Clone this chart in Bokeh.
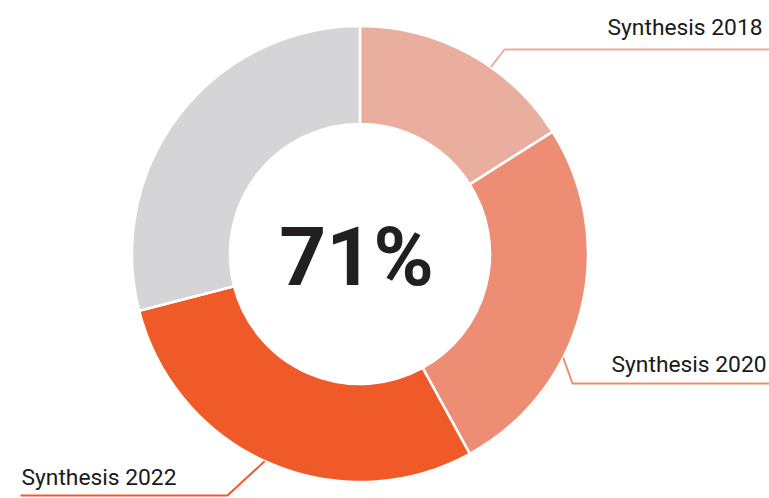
import math
from bokeh.plotting import figure
from bokeh.models import Range1d
from bokeh.core.properties import value
from bokeh.embed import file_html
from bokeh.resources import INLINE

# Data
categories = ["Synthesis 2018", "Synthesis 2020", "Synthesis 2022", "Other"]
shares = [16, 26, 29, 29]
colors = ["#e9ae9e", "#ed8d73", "#f05a28", "#d5d5d8"]
center_label = "71%"

# Layout (pixel units, centre of donut at origin)
R_OUT, R_IN = 228, 130
W, H = 769, 498
x0, y0 = -359.5, -244.5

p = figure(width=W, height=H, output_backend="svg", toolbar_location=None,
           x_range=Range1d(x0, x0 + W), y_range=Range1d(y0, y0 + H),
           min_border=0, outline_line_color=None)
p.axis.visible = False
p.grid.visible = False
p.background_fill_color = "white"
p.border_fill_color = "white"

total = sum(shares)
cum = 0.0
starts, ends = [], []
for s in shares:
    a0 = cum / total * 2 * math.pi
    cum += s
    a1 = cum / total * 2 * math.pi
    starts.append(math.pi / 2 - a0)
    ends.append(math.pi / 2 - a1)

p.annular_wedge(x=[0] * len(shares), y=[0] * len(shares), inner_radius=R_IN, outer_radius=R_OUT,
                start_angle=starts, end_angle=ends, direction="clock",
                fill_color=colors, line_color="white", line_width=2.5)

# Leader lines: (anchor angle clockwise from top in deg, elbow, end)
leaders = [
    (35, (144.5, 204.5), (409.5, 204.5)),
    (117, (212.5, -129.5), (409.5, -129.5)),
    (204.7, (-132.5, -241.5), (-339.5, -241.5)),
]
for i, (ang, elbow, end) in enumerate(leaders):
    t = math.radians(ang)
    sx, sy = R_OUT * math.sin(t), R_OUT * math.cos(t)
    p.line([sx, elbow[0], end[0]], [sy, elbow[1], end[1]], line_color=colors[i], line_width=2)

label_pos = [(402.5, 227.0, "right"), (406.5, -110.0, "right"), (-338.5, -223.0, "left")]
for i, (lx, ly, al) in enumerate(label_pos):
    p.text(x=[lx], y=[ly], text=[categories[i]], text_align=al, text_baseline="alphabetic",
           text_font=value("Roboto"), text_font_size="22.8px", text_color="#1a1a1a")

p.text(x=[-3.5], y=[-2.5], text=[center_label], text_align="center", text_baseline="alphabetic",
       text_font=value("Roboto"), text_font_style="bold", text_font_size="82px", text_color="#231f20")

open("out.html", "w").write(file_html(p, INLINE))
